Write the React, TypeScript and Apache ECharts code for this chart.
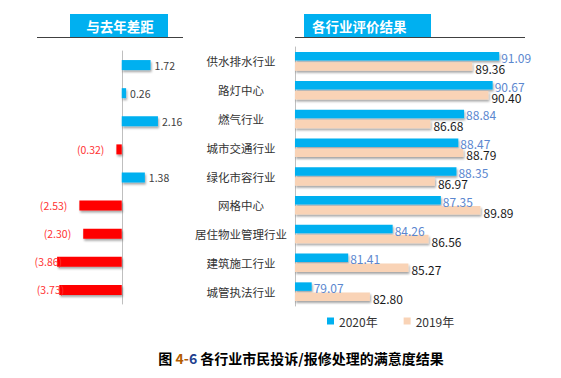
import React, { useEffect, useRef } from "react";
import * as echarts from "echarts";

const categories = [
  "供水排水行业",
  "路灯中心",
  "燃气行业",
  "城市交通行业",
  "绿化市容行业",
  "网格中心",
  "居住物业管理行业",
  "建筑施工行业",
  "城管执法行业",
];
const diffValues = [1.72, 0.26, 2.16, -0.32, 1.38, -2.53, -2.3, -3.86, -3.73];
const values2020 = [91.09, 90.67, 88.84, 88.47, 88.35, 87.35, 84.26, 81.41, 79.07];
const values2019 = [89.36, 90.4, 86.68, 88.79, 86.97, 89.89, 86.56, 85.27, 82.8];
const seriesNames = ["2020年", "2019年"];
const leftTitle = "与去年差距";
const rightTitle = "各行业评价结果";

const FONT = "'Noto Sans CJK SC', 'Noto Sans', sans-serif";
const BLUE = "#00B0F0";
const RED = "#FF0000";
const PEACH = "#F9D3B6";
const shadow = {
  shadowColor: "rgba(0,0,0,0.35)",
  shadowBlur: 2,
  shadowOffsetX: 1,
  shadowOffsetY: 2,
};

export default function App() {
  const ref = useRef<HTMLDivElement>(null);
  useEffect(() => {
    if (!ref.current) return;
    const chart = echarts.init(ref.current, undefined, { renderer: "svg" });

    const diffData = diffValues.map((v) => {
      const neg = v < 0;
      const far = v < -3.5;
      return {
        value: v,
        itemStyle: { color: neg ? RED : BLUE },
        label: {
          show: true,
          position: neg ? "left" : "right",
          distance: neg ? 12 : 4,
          offset: far ? [17, 0] : [0, 0],
          color: neg ? "#FF3333" : "#404040",
          fontSize: 10.5,
          fontFamily: FONT,
          formatter: neg ? `(${Math.abs(v).toFixed(2)})` : v.toFixed(2),
        },
      };
    });

    chart.setOption({
      animation: false,
      backgroundColor: "#ffffff",
      title: {
        text: "图 {a|4-}{b|6} 各行业市民投诉/报修处理的满意度结果",
        left: 296,
        textAlign: "center",
        top: 346,
        textStyle: {
          fontSize: 14,
          fontWeight: "bold",
          color: "#000",
          fontFamily: FONT,
          rich: {
            a: { fontSize: 14, fontWeight: "bold", color: "#B35C00", fontFamily: FONT },
            b: { fontSize: 14, fontWeight: "bold", color: "#1F3F8F", fontFamily: FONT },
          },
        },
      },
      legend: {
        data: seriesNames,
        left: 322,
        top: 310,
        icon: "rect",
        itemWidth: 7,
        itemHeight: 7,
        itemGap: 26,
        textStyle: { fontSize: 12, color: "#333", fontFamily: FONT },
      },
      grid: [
        { left: 38, top: 51, width: 134, height: 253 },
        { left: 295, top: 47, width: 218.4, height: 259 },
      ],
      xAxis: [
        { gridIndex: 0, type: "value", min: -5, max: 3, show: false },
        { gridIndex: 1, type: "value", min: 78, max: 92, show: false },
      ],
      yAxis: [
        {
          gridIndex: 0,
          type: "category",
          data: categories,
          inverse: true,
          axisLine: { show: true, onZero: true, lineStyle: { color: "#BFBFBF", width: 1 } },
          axisTick: { show: false },
          axisLabel: { show: false },
        },
        {
          gridIndex: 1,
          type: "category",
          data: categories,
          inverse: true,
          axisLine: { show: true, onZero: false, lineStyle: { color: "#BFBFBF", width: 1 } },
          axisTick: { show: false },
          axisLabel: {
            show: true,
            align: "center",
            margin: 54,
            fontSize: 11.5,
            color: "#333",
            fontFamily: FONT,
          },
        },
      ],
      series: [
        {
          type: "bar",
          xAxisIndex: 0,
          yAxisIndex: 0,
          data: diffData,
          barWidth: 10,
          itemStyle: { ...shadow },
        },
        {
          name: seriesNames[0],
          type: "bar",
          xAxisIndex: 1,
          yAxisIndex: 1,
          data: values2020,
          barWidth: 8.5,
          barGap: "18%",
          itemStyle: { color: BLUE, ...shadow },
          label: {
            show: true,
            position: "right",
            distance: 2,
            offset: [0, 1],
            color: "#5B87CF",
            fontSize: 12,
            fontFamily: FONT,
            formatter: (p: any) => p.value.toFixed(2),
          },
        },
        {
          name: seriesNames[1],
          type: "bar",
          xAxisIndex: 1,
          yAxisIndex: 1,
          data: values2019,
          barWidth: 8.5,
          barGap: "18%",
          itemStyle: { color: PEACH, ...shadow },
          label: {
            show: true,
            position: "right",
            distance: 3,
            offset: [0, 2],
            color: "#1a1a1a",
            fontSize: 12,
            fontFamily: FONT,
            formatter: (p: any) => p.value.toFixed(2),
          },
        },
      ],
      graphic: [
        { type: "rect", shape: { x: 70, y: 14, width: 98, height: 23 }, style: { fill: BLUE } },
        {
          type: "text",
          x: 120,
          y: 25.5,
          style: {
            text: leftTitle,
            fill: "#fff",
            fontSize: 13.5,
            fontWeight: "bold",
            fontFamily: FONT,
            align: "center",
            verticalAlign: "middle",
          },
        },
        { type: "line", shape: { x1: 37, y1: 37.5, x2: 183, y2: 37.5 }, style: { stroke: "#404040", lineWidth: 1 } },
        { type: "rect", shape: { x: 304, y: 14, width: 127, height: 23 }, style: { fill: BLUE } },
        {
          type: "text",
          x: 312,
          y: 25.5,
          style: {
            text: rightTitle,
            fill: "#fff",
            fontSize: 13.5,
            fontWeight: "bold",
            fontFamily: FONT,
            align: "left",
            verticalAlign: "middle",
          },
        },
        { type: "line", shape: { x1: 295, y1: 37.5, x2: 525, y2: 37.5 }, style: { stroke: "#404040", lineWidth: 1 } },
      ],
    });
    return () => chart.dispose();
  }, []);
  return (
    <div
      ref={ref}
      style={{ position: "fixed", left: 0, top: 0, width: 561, height: 378, background: "#fff" }}
    />
  );
}
